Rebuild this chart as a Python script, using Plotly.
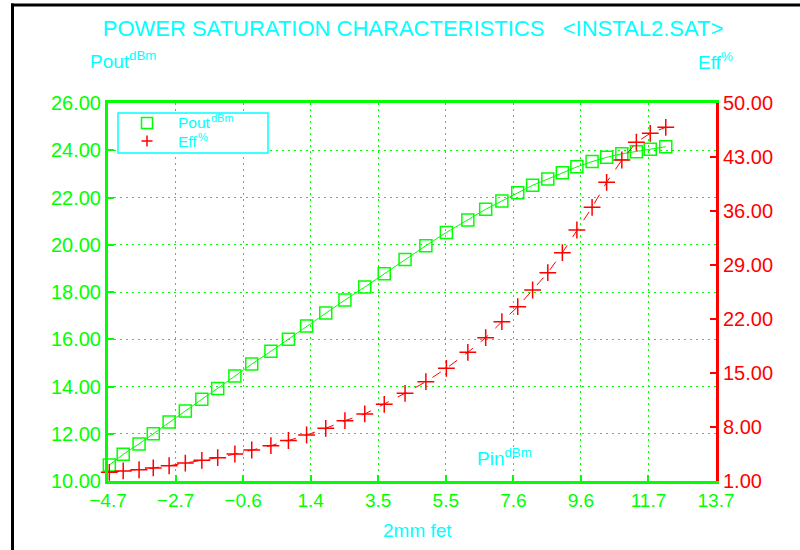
import numpy as np
import plotly.graph_objects as go

# ---- data ----
pin = [-4.66, -4.24, -3.76, -3.33, -2.85, -2.36, -1.86, -1.38, -0.86, -0.35,
       0.23, 0.76, 1.31, 1.89, 2.47, 3.07, 3.66, 4.29, 4.92, 5.54,
       6.19, 6.73, 7.22, 7.70, 8.15, 8.61, 9.05, 9.49, 9.95, 10.39,
       10.85, 11.29, 11.71, 12.18]
pout = [10.68, 11.13, 11.57, 12.00, 12.50, 12.96, 13.46, 13.92, 14.44, 14.95,
        15.49, 16.00, 16.56, 17.11, 17.66, 18.21, 18.77, 19.38, 19.96, 20.52,
        21.05, 21.50, 21.85, 22.20, 22.52, 22.78, 23.05, 23.30, 23.52, 23.70,
        23.85, 23.94, 24.04, 24.15]
eff = [2.13, 2.30, 2.46, 2.69, 2.98, 3.33, 3.68, 4.02, 4.50, 5.02,
       5.58, 6.25, 6.96, 7.83, 8.82, 9.69, 10.94, 12.37, 13.87, 15.61,
       17.68, 19.58, 21.65, 23.60, 25.76, 28.00, 30.60, 33.54, 36.48, 39.72,
       42.61, 44.91, 46.07, 46.85]

x_ticklabels = ["\u22124.7", "\u22122.7", "\u22120.6", "1.4", "3.5", "5.5", "7.6", "9.6", "11.7", "13.7"]
y1_ticklabels = ["10.00", "12.00", "14.00", "16.00", "18.00", "20.00", "22.00", "24.00", "26.00"]
y2_ticklabels = ["1.00", "8.00", "15.00", "22.00", "29.00", "36.00", "43.00", "50.00"]
legend_names = ["Pout", "Eff"]
legend_units = ["dBm", "%"]

GREEN = "#00ff00"
RED = "#ff0000"
CYAN = "#00ffff"
FONT = "Liberation Sans, Arial, sans-serif"

x_tickvals = np.linspace(-4.7, 13.7, len(x_ticklabels))
y1_tickvals = [float(v) for v in y1_ticklabels]
y2_tickvals = [float(v) for v in y2_ticklabels]

fig = go.Figure()

fig.add_trace(go.Scatter(
    x=pin, y=pout, mode="lines+markers", name="Pout",
    line=dict(color=GREEN, width=1),
    marker=dict(symbol="square-open", size=12, color=GREEN, line=dict(width=1.5, color=GREEN)),
    showlegend=False, yaxis="y", cliponaxis=False))

fig.add_trace(go.Scatter(
    x=pin, y=eff, mode="lines+markers", name="Eff",
    line=dict(color=RED, width=1, dash="10px,10px"),
    marker=dict(symbol="cross-thin-open", size=12, color=RED, line=dict(width=1.5, color=RED)),
    showlegend=False, yaxis="y2", cliponaxis=False))

L, R, T, B = 108, 84, 103, 69
W, H = 800 - L - R, 550 - T - B


def px(xp):
    return (xp - L) / W


def py(yp):
    return (550 - B - yp) / H


fig.update_layout(
    width=800, height=550,
    margin=dict(l=L, r=R, t=T, b=B, autoexpand=False),
    paper_bgcolor="white", plot_bgcolor="white",
    font=dict(family=FONT, color=GREEN),
    showlegend=False,
    title=dict(text="POWER SATURATION CHARACTERISTICS\u00a0\u00a0\u00a0<INSTAL2.SAT>",
               x=413 / 800, xanchor="center", y=1 - 28 / 550, yanchor="middle",
               font=dict(size=22, color=CYAN, family=FONT)),
    xaxis=dict(range=[-4.7, 13.7], tickmode="array", tickvals=x_tickvals, ticktext=x_ticklabels,
               showline=True, linecolor=GREEN, linewidth=3, mirror=True,
               ticks="inside", ticklen=6, tickwidth=2, tickcolor=GREEN,
               showgrid=True, gridcolor=GREEN, gridwidth=1, griddash="2px,4px",
               zeroline=False, tickfont=dict(size=19, color=GREEN, family=FONT)),
    yaxis=dict(range=[10, 26], tickmode="array", tickvals=y1_tickvals, ticktext=y1_ticklabels,
               showline=True, linecolor=GREEN, linewidth=3,
               ticks="inside", ticklen=6, tickwidth=2, tickcolor=GREEN,
               showgrid=True, gridcolor=GREEN, gridwidth=1, griddash="2px,4px",
               zeroline=False, tickfont=dict(size=20, color=GREEN, family=FONT)),
    yaxis2=dict(range=[1, 50], tickmode="array", tickvals=y2_tickvals, ticktext=y2_ticklabels,
                overlaying="y", side="right",
                showline=True, linecolor=RED, linewidth=3,
                ticks="inside", ticklen=6, tickwidth=2, tickcolor=RED,
                showgrid=False, zeroline=False,
                tickfont=dict(size=20, color=RED, family=FONT)),
)

# ---- legend box drawn by hand (matches the reference's compact legend) ----
fig.add_shape(type="rect", xref="paper", yref="paper",
              x0=px(118), x1=px(268), y0=py(153), y1=py(113),
              line=dict(color=CYAN, width=1.5), fillcolor="white", layer="above")
# square symbol
fig.add_shape(type="rect", xref="paper", yref="paper",
              x0=px(141.5), x1=px(152.5), y0=py(128.5), y1=py(117.5),
              line=dict(color=GREEN, width=1.5), layer="above")
# plus symbol
fig.add_shape(type="line", xref="paper", yref="paper",
              x0=px(141.5), x1=px(152.5), y0=py(141), y1=py(141),
              line=dict(color=RED, width=1.5), layer="above")
fig.add_shape(type="line", xref="paper", yref="paper",
              x0=px(147), x1=px(147), y0=py(146.5), y1=py(135.5),
              line=dict(color=RED, width=1.5), layer="above")

name_ends = [209, 196]
for i, (nm, un) in enumerate(zip(legend_names, legend_units)):
    yc = 122.5 + 19 * i
    fig.add_annotation(xref="paper", yref="paper", showarrow=False, borderpad=0,
                       text=nm, x=px(177), y=py(yc), xanchor="left", yanchor="middle",
                       font=dict(size=15.5, color=CYAN, family=FONT))
    fig.add_annotation(xref="paper", yref="paper", showarrow=False, borderpad=0,
                       text=un, x=px(name_ends[i] + 1), y=py(yc - 5), xanchor="left", yanchor="middle",
                       font=dict(size=11, color=CYAN, family=FONT))

annotations = [
    dict(text="Pout<sup>dBm</sup>", x=px(88), y=py(60), xanchor="left", yanchor="middle"),
    dict(text="Eff<sup>%</sup>", x=px(696), y=py(61), xanchor="left", yanchor="middle"),
    dict(text="Pin<sup>dBm</sup>", x=px(475), y=py(457), xanchor="left", yanchor="middle"),
    dict(text="2mm fet", x=px(418), y=py(530), xanchor="center", yanchor="middle"),
]
for a in annotations:
    fig.add_annotation(xref="paper", yref="paper", showarrow=False,
                       font=dict(size=19, color=CYAN, family=FONT), **a)

# outer black frame (left and top edges)
fig.add_shape(type="line", xref="paper", yref="paper",
              x0=px(12.5), x1=px(12.5), y0=py(552), y1=py(3.5),
              line=dict(color="black", width=3))
fig.add_shape(type="line", xref="paper", yref="paper",
              x0=px(11), x1=px(802), y0=py(5), y1=py(5),
              line=dict(color="black", width=3))

fig.write_html("out.html", config={"displayModeBar": False},
               post_script="document.body.style.margin='0';document.body.style.overflow='hidden';")
